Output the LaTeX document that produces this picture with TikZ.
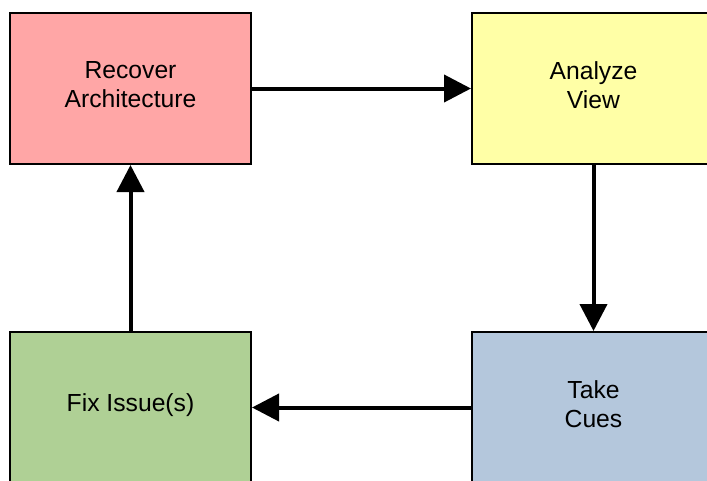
\documentclass[tikz,border=0pt]{standalone}
\usepackage{fontspec}
\setmainfont{Liberation Sans}
\usetikzlibrary{arrows.meta}

\definecolor{boxred}{HTML}{FFA6A6}
\definecolor{boxyellow}{HTML}{FFFFA6}
\definecolor{boxblue}{HTML}{B4C7DC}
\definecolor{boxgreen}{HTML}{AFD095}

\tikzset{
  stepbox/.style={draw=black, line width=2pt, minimum width=241pt, minimum height=151pt,
    inner sep=0pt},
  boxtext/.style={align=center, inner sep=0pt, font=\fontsize{24.7}{29}\selectfont},
  flow/.style={line width=4pt, -{Triangle[length=27pt,width=27pt]}}
}

\begin{document}
\begin{tikzpicture}[x=1pt, y=-1pt]
  \useasboundingbox (0,0) rectangle (707,480);

  \node[stepbox, fill=boxred]    (recover) at (130.5,88.5) {};
  \node[stepbox, fill=boxyellow, minimum width=243pt] (analyze) at (593.5,88.5) {};
  \node[stepbox, fill=boxblue,   minimum width=243pt] (cues)    at (593.5,407.5) {};
  \node[stepbox, fill=boxgreen]  (fix)     at (130.5,407.5) {};

  \node[boxtext] (recover-t) at ([yshift=3.5pt]recover.center) {Recover\\Architecture};
  \node[boxtext] (analyze-t) at ([yshift=3.5pt]analyze.center) {Analyze\\View};
  \node[boxtext] (cues-t)    at ([yshift=3.5pt]cues.center)    {Take\\Cues};
  \node[boxtext] (fix-t)     at ([yshift=2pt]fix.center)       {Fix Issue(s)};

  \draw[flow] (recover) -- (analyze);
  \draw[flow] (analyze) -- (cues);
  \draw[flow] (cues) -- (fix);
  \draw[flow] (fix) -- (recover);
\end{tikzpicture}
\end{document}
